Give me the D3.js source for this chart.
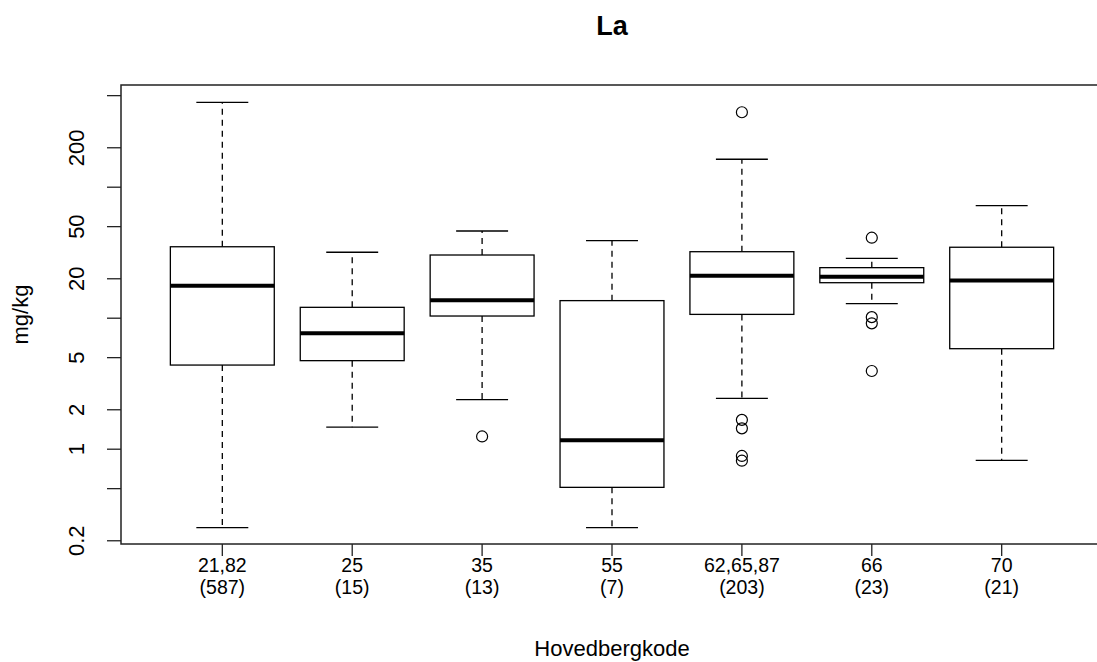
<!DOCTYPE html>
<html>
<head>
<meta charset="utf-8">
<script src="https://cdn.jsdelivr.net/npm/d3@7"></script>
<style>
  body { margin: 0; background: #fff; }
  text { font-family: "Liberation Sans", Arial, Helvetica, sans-serif; fill: #000; }
</style>
</head>
<body>
<svg id="chart" width="1097" height="662"></svg>
<script>
// Boxplot statistics per rock code group (mg/kg, log scale)
const categories   = ["21,82", "25", "35", "55", "62,65,87", "66", "70"];
const counts       = [587, 15, 13, 7, 203, 23, 21];
const whiskerLow   = [0.25, 1.46, 2.37, 0.25, 2.42, 12.8, 0.815];
const q1           = [4.35, 4.7, 10.3, 0.507, 10.6, 18.5, 5.8];
const medians      = [17.5, 7.6, 13.6, 1.16, 20.9, 20.5, 19.2];
const q3           = [34.8, 12.0, 30.1, 13.5, 31.9, 24.1, 34.5];
const whiskerHigh  = [441, 31.6, 45.9, 38.7, 162, 28.4, 71.6];
const outliers     = [[], [], [1.24], [], [370, 1.66, 1.43, 0.88, 0.81], [40.8, 10.1, 9.06, 3.92], []];

const yTicks      = [0.2, 0.5, 1, 2, 5, 10, 20, 50, 100, 200, 500];
const yTickLabels = ["0.2", "", "1", "2", "5", "", "20", "50", "", "200", ""];

const title  = "La";
const xTitle = "Hovedbergkode";
const yTitle = "mg/kg";

const svg = d3.select("#chart");
const plot = { left: 121, right: 1103, top: 85, bottom: 544 };

// x: group positions 1..n with the usual 4% padding around 0.5..n+0.5
const n = categories.length;
const xPad = 0.04 * n;
const x = d3.scaleLinear()
  .domain([0.5 - xPad, n + 0.5 + xPad])
  .range([plot.left, plot.right]);

const y = d3.scaleLog()
  .domain([0.1873, 597.5])
  .range([plot.bottom, plot.top]);

const boxW = 0.8 * (x(2) - x(1));
const capW = boxW / 2;

// Frame
svg.append("rect")
  .attr("x", plot.left).attr("y", plot.top)
  .attr("width", plot.right - plot.left)
  .attr("height", plot.bottom - plot.top)
  .attr("fill", "none").attr("stroke", "#222").attr("stroke-width", 1.5);

// Y axis
const yAxis = svg.append("g")
  .attr("transform", `translate(${plot.left},0)`)
  .call(d3.axisLeft(y).tickValues(yTicks).tickSize(14).tickSizeOuter(0)
    .tickFormat((d, i) => yTickLabels[i]));
yAxis.select(".domain").remove();
yAxis.selectAll(".tick line").attr("stroke", "#222").attr("stroke-width", 1.3);
yAxis.selectAll(".tick text")
  .attr("x", null).attr("dy", null).attr("y", null)
  .attr("text-anchor", "middle")
  .attr("transform", "translate(-37,0) rotate(-90)")
  .style("font-size", "22px")
  .style("font-family", "'Liberation Sans', Arial, Helvetica, sans-serif")
  .attr("fill", "#000");

// X axis ticks and two-line labels
const xAxis = svg.append("g");
categories.forEach((c, i) => {
  const cx = x(i + 1);
  xAxis.append("line")
    .attr("x1", cx).attr("x2", cx)
    .attr("y1", plot.bottom).attr("y2", plot.bottom + 12)
    .attr("stroke", "#222").attr("stroke-width", 1.3);
  xAxis.append("text")
    .attr("x", cx).attr("y", 572)
    .attr("text-anchor", "middle").style("font-size", "19.5px")
    .text(c);
  xAxis.append("text")
    .attr("x", cx).attr("y", 594)
    .attr("text-anchor", "middle").style("font-size", "19.5px")
    .text(`(${counts[i]})`);
});

// Boxes
const g = svg.append("g");
categories.forEach((c, i) => {
  const cx = x(i + 1);
  // dashed whiskers
  g.append("line")
    .attr("x1", cx).attr("x2", cx)
    .attr("y1", y(q3[i])).attr("y2", y(whiskerHigh[i]))
    .attr("stroke", "#000").attr("stroke-width", 1.3).attr("stroke-dasharray", "6,5");
  g.append("line")
    .attr("x1", cx).attr("x2", cx)
    .attr("y1", y(q1[i])).attr("y2", y(whiskerLow[i]))
    .attr("stroke", "#000").attr("stroke-width", 1.3).attr("stroke-dasharray", "6,5");
  // caps
  [whiskerHigh[i], whiskerLow[i]].forEach(v => {
    g.append("line")
      .attr("x1", cx - capW / 2).attr("x2", cx + capW / 2)
      .attr("y1", y(v)).attr("y2", y(v))
      .attr("stroke", "#000").attr("stroke-width", 1.3);
  });
  // box
  g.append("rect")
    .attr("x", cx - boxW / 2).attr("y", y(q3[i]))
    .attr("width", boxW).attr("height", y(q1[i]) - y(q3[i]))
    .attr("fill", "#fff").attr("stroke", "#000").attr("stroke-width", 1.3);
  // median
  g.append("line")
    .attr("x1", cx - boxW / 2).attr("x2", cx + boxW / 2)
    .attr("y1", y(medians[i])).attr("y2", y(medians[i]))
    .attr("stroke", "#000").attr("stroke-width", 4);
  // outliers
  outliers[i].forEach(v => {
    g.append("circle")
      .attr("cx", cx).attr("cy", y(v)).attr("r", 5.5)
      .attr("fill", "none").attr("stroke", "#000").attr("stroke-width", 1.2);
  });
});

// Titles
svg.append("text")
  .attr("x", (plot.left + plot.right) / 2).attr("y", 35)
  .attr("text-anchor", "middle")
  .style("font-size", "27px").style("font-weight", "bold")
  .text(title);

svg.append("text")
  .attr("x", (plot.left + plot.right) / 2).attr("y", 656)
  .attr("text-anchor", "middle").style("font-size", "22px")
  .text(xTitle);

svg.append("text")
  .attr("transform", `translate(28,${(plot.top + plot.bottom) / 2}) rotate(-90)`)
  .attr("text-anchor", "middle").style("font-size", "22px")
  .text(yTitle);
</script>
</body>
</html>
